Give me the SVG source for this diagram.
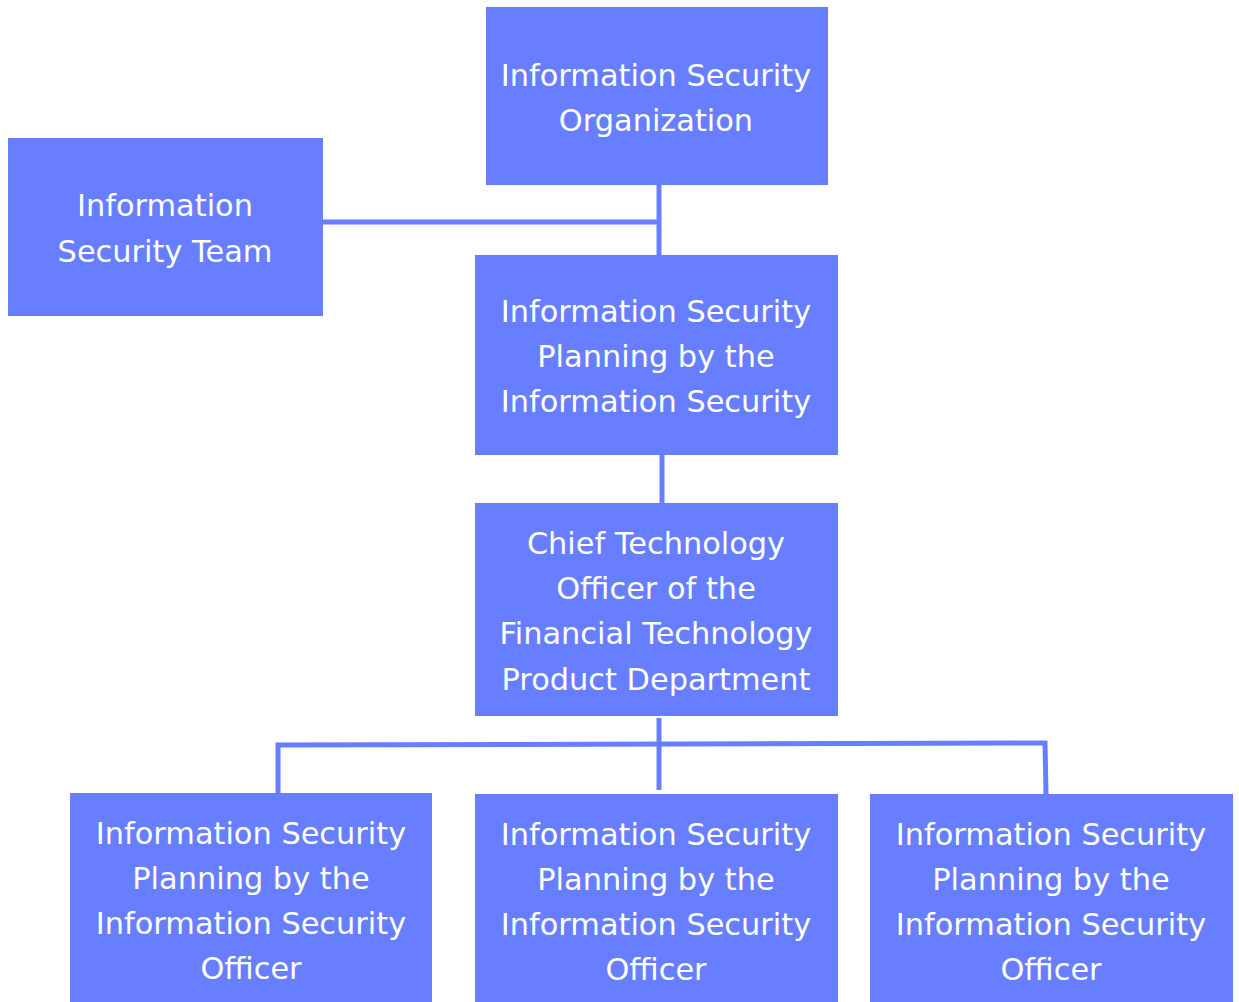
<svg xmlns="http://www.w3.org/2000/svg" width="1239" height="1002" viewBox="0 0 1239 1002">
  <style>
    .box { fill: #667eff; }
    .lbl { fill: #ffffff; font-family: "DejaVu Sans", "Liberation Sans", sans-serif; font-size: 30.4px; text-anchor: middle; }
    .wire { fill: none; stroke: #667eff; stroke-width: 5; }
  </style>
  <rect width="1239" height="1002" fill="#ffffff"/>

  <g id="connectors">
    <path class="wire" d="M659 185 V255"/>
    <path class="wire" d="M323 222 H659"/>
    <path class="wire" d="M662 455 V503"/>
    <path class="wire" d="M659 718 V790"/>
    <path class="wire" d="M278 793 V745 L1045 743 L1046 794"/>
  </g>

  <g id="org">
    <rect class="box" x="486" y="7" width="342" height="178"/>
    <text class="lbl" x="656" y="86">Information Security</text>
    <text class="lbl" x="656" y="131">Organization</text>
  </g>

  <g id="team">
    <rect class="box" x="8" y="138" width="315" height="178"/>
    <text class="lbl" x="165" y="216">Information</text>
    <text class="lbl" x="165" y="262">Security Team</text>
  </g>

  <g id="planning">
    <rect class="box" x="475" y="255" width="363" height="200"/>
    <text class="lbl" x="656" y="322">Information Security</text>
    <text class="lbl" x="656" y="367">Planning by the</text>
    <text class="lbl" x="656" y="412">Information Security</text>
  </g>

  <g id="cto">
    <rect class="box" x="475" y="503" width="363" height="213"/>
    <text class="lbl" x="656" y="554">Chief Technology</text>
    <text class="lbl" x="656" y="599">Officer of the</text>
    <text class="lbl" x="656" y="644">Financial Technology</text>
    <text class="lbl" x="656" y="690">Product Department</text>
  </g>

  <g id="officer-left">
    <rect class="box" x="70" y="793" width="362" height="209"/>
    <text class="lbl" x="251" y="844">Information Security</text>
    <text class="lbl" x="251" y="889">Planning by the</text>
    <text class="lbl" x="251" y="934">Information Security</text>
    <text class="lbl" x="251" y="979">Officer</text>
  </g>

  <g id="officer-middle">
    <rect class="box" x="475" y="794" width="363" height="208"/>
    <text class="lbl" x="656" y="845">Information Security</text>
    <text class="lbl" x="656" y="890">Planning by the</text>
    <text class="lbl" x="656" y="935">Information Security</text>
    <text class="lbl" x="656" y="980">Officer</text>
  </g>

  <g id="officer-right">
    <rect class="box" x="870" y="794" width="363" height="208"/>
    <text class="lbl" x="1051" y="845">Information Security</text>
    <text class="lbl" x="1051" y="890">Planning by the</text>
    <text class="lbl" x="1051" y="935">Information Security</text>
    <text class="lbl" x="1051" y="980">Officer</text>
  </g>
</svg>
